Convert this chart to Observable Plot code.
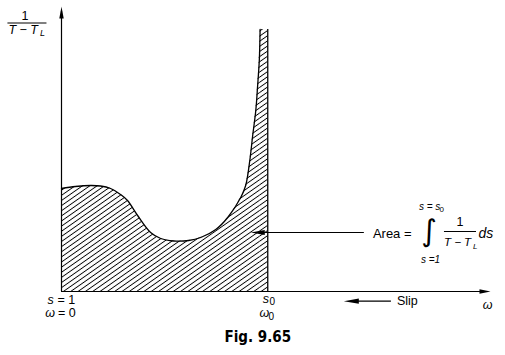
<!DOCTYPE html>
<html><head><meta charset="utf-8">
<script src="https://cdn.jsdelivr.net/npm/d3@7"></script>
<script src="https://cdn.jsdelivr.net/npm/@observablehq/plot@0.6"></script>
<style>body{margin:0;background:#fff}</style>
</head><body><div id="chart"></div>
<script>
// Curve 1/(T - T_L) versus omega (omega normalised so that omega0 = 1)
const omega = [0, 0.068, 0.141, 0.189, 0.238, 0.286, 0.32, 0.369, 0.432, 0.481, 0.544, 0.617, 0.675, 0.748, 0.806, 0.869, 0.893, 0.913, 0.927, 0.942, 0.951, 0.959, 0.963];
const invT  = [1.03, 1.05, 1.06, 1.055, 1.03, 0.97, 0.91, 0.76, 0.59, 0.53, 0.505, 0.51, 0.54, 0.62, 0.74, 0.94, 1.06, 1.31, 1.56, 1.81, 2.06, 2.31, 2.62];
const omega0 = 1;
const xAxisEnd = 2.08;
const yAxisEnd = 2.85;
const startLabels = ["s", "= 1", "ω", "= 0"];
const endLabels = ["s", "0", "ω", "0"];
const caption = "Fig. 9.65";

const curve = omega.map((w, i) => ({w, v: invT[i]}));
const topPt = curve[curve.length - 1];

// pixel helpers for annotation placement
const X = p => (p - 61) / 206;
const Y = p => (291 - p) / 100;

function head(len, half) {
  return {draw(ctx) { ctx.moveTo(0, 0); ctx.lineTo(half, len); ctx.lineTo(-half, len); ctx.closePath(); }};
}
const it = {fontStyle: "italic"};
const T = (txt, x, y, o = {}) => Plot.text([txt], {x: () => x, y: () => y, fill: "black", ...o});

const svg = Plot.plot({
  width: 505, height: 355,
  marginLeft: 61, marginRight: 15, marginTop: 6, marginBottom: 64,
  x: {domain: [0, xAxisEnd], axis: null},
  y: {domain: [0, yAxisEnd], axis: null},
  style: {fontFamily: "'Liberation Sans', Arial, sans-serif", fontSize: "12px", background: "white", overflow: "visible"},
  marks: [
    Plot.areaY(curve, {x: "w", y: "v", fill: "url(#hatch)", curve: "catmull-rom"}),
    Plot.rect([topPt], {x1: "w", x2: () => omega0, y1: () => 0, y2: "v", fill: "url(#hatch)"}),
    Plot.line(curve, {x: "w", y: "v", stroke: "black", strokeWidth: 1.3, curve: "catmull-rom"}),
    Plot.ruleX([omega0], {y1: 0, y2: topPt.v, stroke: "black", strokeWidth: 1.3}),
    // axes
    Plot.ruleY([0], {x1: 0, x2: xAxisEnd - 0.02, stroke: "black", strokeWidth: 1.2}),
    Plot.ruleX([0], {y1: 0, y2: yAxisEnd - 0.05, stroke: "black", strokeWidth: 1.2}),
    Plot.dot([0], {x: 0, y: () => yAxisEnd, symbol: head(12, 2.2), fill: "black", stroke: "none"}),
    Plot.dot([0], {x: () => xAxisEnd, y: 0, symbol: head(11, 2.2), rotate: 90, fill: "black", stroke: "none"}),
    // labels below the axis
    T(startLabels[0], 0, 0, {dx: -11, dy: 8, ...it, fontSize: 12.5}),
    T(startLabels[1], 0, 0, {dx: -4, dy: 8, textAnchor: "start", fontSize: 12.5}),
    T(startLabels[2], 0, 0, {dx: -11.5, dy: 21.5, ...it, fontSize: 12.5}),
    T(startLabels[3], 0, 0, {dx: -3.5, dy: 21.5, textAnchor: "start", fontSize: 12.5}),
    T(endLabels[0], omega0, 0, {dx: -2, dy: 7.5, ...it, fontSize: 12.5}),
    T(endLabels[1], omega0, 0, {dx: 4.5, dy: 10.5, fontSize: 10}),
    T(endLabels[2], omega0, 0, {dx: -3.5, dy: 21.5, ...it, fontSize: 12.5}),
    T(endLabels[3], omega0, 0, {dx: 3.5, dy: 25, fontSize: 10}),
    // slip arrow
    Plot.link([0], {x1: () => X(390), x2: () => X(350), y1: () => Y(300.7), y2: () => Y(300.7), stroke: "black", strokeWidth: 1.2}),
    Plot.dot([0], {x: () => X(343), y: () => Y(300.7), symbol: head(15, 2.6), rotate: -90, fill: "black", stroke: "none"}),
    T("Slip", X(396), Y(300.5), {textAnchor: "start", fontSize: 12.5}),
    T("ω", X(486.5), Y(304.5), {...it, fontSize: 12.5}),
    // y label
    T("1", X(24.5), Y(15.5), {fontSize: 12.5}),
    Plot.link([0], {x1: () => X(7), x2: () => X(46), y1: () => Y(22.5), y2: () => Y(22.5), stroke: "black", strokeWidth: 1}),
    T("T − T", X(8), Y(29), {textAnchor: "start", ...it, fontSize: 12.5}),
    T("L", X(39.5), Y(32.5), {textAnchor: "start", ...it, fontSize: 9}),
    // area annotation
    Plot.link([0], {x1: () => X(363), x2: () => X(258), y1: () => Y(232), y2: () => Y(232), stroke: "black", strokeWidth: 1.1}),
    Plot.dot([0], {x: () => X(250), y: () => Y(232), symbol: head(14, 2.6), rotate: -90, fill: "black", stroke: "none"}),
    T("Area =", X(372), Y(233), {textAnchor: "start", fontSize: 13}),
    T("∫", X(428), Y(231), {fontSize: 30, fontFamily: "'DejaVu Sans', sans-serif"}),
    T("s = s", X(418), Y(206.5), {textAnchor: "start", ...it, fontSize: 10}),
    T("0", X(438.5), Y(209), {textAnchor: "start", fontSize: 8}),
    T("s =1", X(420), Y(259), {textAnchor: "start", ...it, fontSize: 10}),
    T("1", X(459), Y(221), {fontSize: 12.5}),
    Plot.link([0], {x1: () => X(443), x2: () => X(475), y1: () => Y(231), y2: () => Y(231), stroke: "black", strokeWidth: 1}),
    T("T − T", X(443), Y(242), {textAnchor: "start", ...it, fontSize: 11.5}),
    T("L", X(472), Y(245.5), {textAnchor: "start", ...it, fontSize: 8}),
    T("ds", X(477.5), Y(233), {textAnchor: "start", ...it, fontSize: 14}),
    // caption
    T(caption, X(257), Y(336.5), {fontWeight: "bold", fontSize: 15, fontFamily: "'Liberation Sans Narrow', 'DejaVu Sans Condensed', sans-serif"})
  ]
});

const ns = "http://www.w3.org/2000/svg";
const defs = document.createElementNS(ns, "defs");
const pat = document.createElementNS(ns, "pattern");
pat.setAttribute("id", "hatch");
pat.setAttribute("patternUnits", "userSpaceOnUse");
pat.setAttribute("width", "10");
pat.setAttribute("height", "4.2");
pat.setAttribute("patternTransform", "rotate(-35)");
const ln = document.createElementNS(ns, "line");
ln.setAttribute("x1", "-1"); ln.setAttribute("x2", "11");
ln.setAttribute("y1", "2.1"); ln.setAttribute("y2", "2.1");
ln.setAttribute("stroke", "black"); ln.setAttribute("stroke-width", "0.9");
pat.appendChild(ln);
defs.appendChild(pat);
svg.insertBefore(defs, svg.firstChild);
document.getElementById("chart").appendChild(svg);
</script>
</body></html>
